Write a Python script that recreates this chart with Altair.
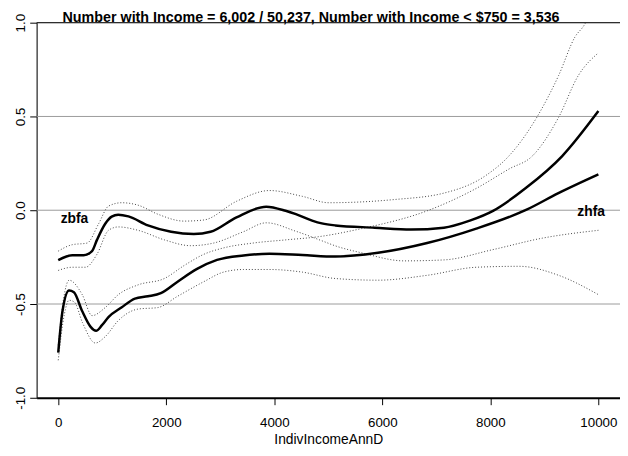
import altair as alt
import pandas as pd

TITLE = ["Number with Income = 6,002 / 50,237, Number with Income < $750 = 3,536"]

# solid smooth curves
zbfa_x = [0, 260, 470, 626, 717, 870, 990, 1110, 1300, 1660, 2090, 2510, 2820, 3300, 3850,
          4210, 4400, 4700, 4880, 5130, 5860, 6530, 7140, 7620, 8050, 8650, 9330, 10000]
zbfa_y = [-0.266, -0.24, -0.24, -0.218, -0.158, -0.072, -0.034, -0.024, -0.033, -0.081, -0.115,
          -0.127, -0.115, -0.038, 0.019, -0.003, -0.021, -0.055, -0.070, -0.081, -0.093, -0.103,
          -0.093, -0.055, -0.003, 0.117, 0.289, 0.529]

zhfa_x = [0, 80, 200, 290, 440, 600, 700, 810, 930, 1170, 1420, 1660, 1900, 2210, 2570, 2940,
          3430, 3910, 4520, 5130, 5920, 6830, 7740, 8650, 9260, 10000]
zhfa_y = [-0.759, -0.536, -0.428, -0.437, -0.536, -0.622, -0.643, -0.613, -0.570, -0.519, -0.471,
          -0.459, -0.442, -0.381, -0.313, -0.265, -0.241, -0.232, -0.239, -0.247, -0.227, -0.175,
          -0.098, 0.0, 0.091, 0.191]

# dotted confidence bands
zbfa_hi_x = [0, 257, 535, 748, 931, 1174, 1478, 1843, 2330, 2695, 3303, 3911, 4520, 5006, 6223,
             7135, 7920, 8346, 8894, 9263, 9567, 9750, 10000]
zbfa_hi_y = [-0.218, -0.184, -0.175, -0.072, 0.022, 0.040, 0.027, -0.021, -0.058, -0.052, 0.048,
             0.105, 0.074, 0.040, 0.057, 0.091, 0.186, 0.29, 0.512, 0.718, 0.924, 0.993, 1.17]

zbfa_lo_x = [0, 261, 505, 717, 931, 1113, 1478, 1965, 2451, 2877, 3425, 3851, 4398, 4900, 5130,
             5614, 6406, 7135, 8047, 8960, 10000]
zbfa_lo_y = [-0.321, -0.304, -0.304, -0.235, -0.107, -0.089, -0.107, -0.158, -0.189, -0.175,
             -0.115, -0.067, -0.112, -0.165, -0.19, -0.227, -0.270, -0.265, -0.21, -0.149, -0.107]

zhfa_hi_x = [0, 100, 201, 444, 626, 870, 1113, 1478, 1965, 2330, 2695, 3060, 3607, 4215, 4824,
             5614, 6831, 7743, 8346, 8777, 9263, 9628, 10000]
zhfa_hi_y = [-0.72, -0.47, -0.373, -0.45, -0.562, -0.519, -0.45, -0.398, -0.364, -0.295, -0.235,
             -0.201, -0.175, -0.158, -0.141, -0.098, -0.003, 0.117, 0.220, 0.289, 0.495, 0.718, 0.839]

zhfa_lo_x = [0, 110, 200, 300, 450, 687, 870, 1113, 1478, 1843, 2208, 2695, 3060, 3425, 3911,
             4520, 5128, 5918, 6831, 7743, 8534, 9263, 10000]
zhfa_lo_y = [-0.80, -0.56, -0.48, -0.49, -0.60, -0.708, -0.674, -0.588, -0.527, -0.519, -0.459,
             -0.381, -0.330, -0.316, -0.316, -0.330, -0.364, -0.373, -0.347, -0.304, -0.299,
             -0.347, -0.450]

label_text = ["zbfa", "zhfa"]
label_x = [300, 9866]
label_y = [-0.045, -0.012]

grid_vals = [-0.5, 0.0, 0.5]
top_val = [1.0]
x_ticks = [0, 2000, 4000, 6000, 8000, 10000]
y_ticks = [-1.0, -0.5, 0.0, 0.5, 1.0]


def frame(xs, ys, name):
    return pd.DataFrame({"x": xs, "y": ys, "curve": name})


solid = pd.concat([frame(zbfa_x, zbfa_y, "zbfa"), frame(zhfa_x, zhfa_y, "zhfa")])
bands = pd.concat([
    frame(zbfa_hi_x, zbfa_hi_y, "zbfa_hi"), frame(zbfa_lo_x, zbfa_lo_y, "zbfa_lo"),
    frame(zhfa_hi_x, zhfa_hi_y, "zhfa_hi"), frame(zhfa_lo_x, zhfa_lo_y, "zhfa_lo"),
])
labels = pd.DataFrame({"x": label_x, "y": label_y, "t": label_text})
grid = pd.DataFrame({"y": grid_vals})
top = pd.DataFrame({"y": top_val})
title_df = pd.DataFrame({"t": TITLE})

FONT = "Liberation Sans"
xs = alt.Scale(domain=[-400, 10400], nice=False, zero=False)
ys = alt.Scale(domain=[-1, 1], nice=False, zero=False)

x_axis = alt.Axis(values=x_ticks, format="d", tickSize=7, tickColor="black", domainColor="black",
                  domainWidth=2, labelFontSize=13.5, labelFont=FONT, labelColor="black",
                  labelPadding=11, grid=False, title="IndivIncomeAnnD", titleFont=FONT,
                  titleFontSize=14, titleFontWeight="normal", titleColor="black", titlePadding=4)
y_axis = alt.Axis(values=y_ticks, labelExpr="replace(format(datum.value, '.1f'), '\u2212', '-')",
                  tickSize=7, tickColor="black", domainColor="black", domainWidth=1,
                  labelFontSize=13.5, labelFont=FONT, labelColor="black", labelAngle=270,
                  labelAlign="center", labelBaseline="bottom", labelPadding=2, grid=False,
                  title=None)

X = alt.X("x:Q", scale=xs, axis=x_axis, title="IndivIncomeAnnD")
Y = alt.Y("y:Q", scale=ys, axis=y_axis, title=None)

grid_layer = alt.Chart(grid).mark_rule(color="#9a9a9a", strokeWidth=1).encode(y=Y)
top_layer = alt.Chart(top).mark_rule(color="black", strokeWidth=1).encode(y=Y)

band_layer = alt.Chart(bands).mark_line(color="#444444", strokeWidth=1, strokeDash=[1, 2],
                                        interpolate="monotone", clip=True).encode(
    x=X, y=Y, detail="curve:N")

solid_layer = alt.Chart(solid).mark_line(color="black", strokeWidth=2.5,
                                         interpolate="monotone", clip=True).encode(
    x=X, y=Y, detail="curve:N")

text_layer = alt.Chart(labels).mark_text(font=FONT, fontSize=14, fontWeight="bold",
                                         color="black", align="center",
                                         baseline="middle").encode(
    x=X, y=Y, text="t:N")

title_layer = alt.Chart(title_df).mark_text(font=FONT, fontSize=14.5, fontWeight="bold",
                                            color="black", align="center",
                                            baseline="alphabetic").encode(
    x=alt.value(278), y=alt.value(-1), text="t:N")

chart = alt.layer(grid_layer, top_layer, band_layer, solid_layer, text_layer,
                  title_layer).properties(
    width=591, height=380,
    autosize=alt.AutoSizeParams(type="none"),
    padding={"left": 29, "top": 12, "right": 0, "bottom": 48},
).configure_view(stroke=None).configure(background="white")

chart.save("out.html", embed_options={"renderer": "svg", "actions": False})
